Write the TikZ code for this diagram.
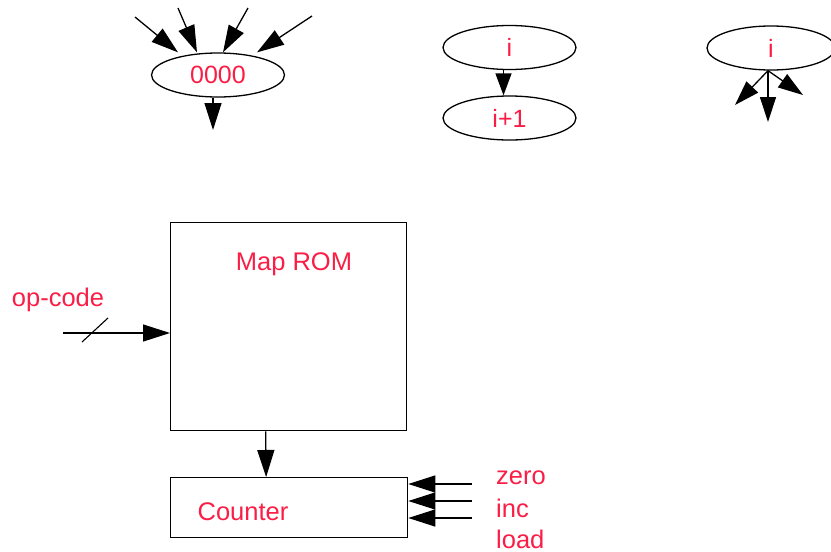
\documentclass[tikz,border=0pt]{standalone}
\usepackage{fontspec}
\setmainfont{Liberation Sans}
\usetikzlibrary{arrows.meta,shapes.geometric}
\definecolor{txtred}{RGB}{250,30,70}
\tikzset{
  arr/.style={line width=1.3pt,-{Triangle[length=27pt,width=17pt]}},
  oval/.style={ellipse,draw,line width=1.3pt,minimum width=133pt,minimum height=44pt,inner sep=0pt,text=txtred,font=\fontsize{25}{27}\selectfont},
  blk/.style={draw,line width=1.3pt,inner sep=0pt,anchor=north west},
  lbl/.style={text=txtred,font=\fontsize{25.5}{28}\selectfont,inner sep=0pt}
}
\begin{document}
\begin{tikzpicture}[x=1pt,y=-1pt]
\useasboundingbox (0,0) rectangle (831,552);
% top left
\node[oval] (z) at (218,75) {0000};
\coordinate (s1) at (135,17);
\coordinate (s2) at (178,8);
\coordinate (s3) at (248,8);
\coordinate (s4) at (312,16);
\coordinate (zo) at (213,130);
\draw[arr] (s1) -- ([xshift=-40pt]z.north);
\draw[arr] (s2) -- ([xshift=-21pt]z.north);
\draw[arr] (s3) -- ([xshift=5pt]z.north);
\draw[arr] (s4) -- ([xshift=39pt]z.north);
\draw[arr] ([xshift=-5pt]z.south) -- (zo);
% middle
\node[oval] (a) at (509.5,47.5) {i};
\node[oval] (b) at (509.5,118) {i+1};
\draw[arr,-{Triangle[length=22pt,width=16pt]}] ([xshift=-6pt]a.south) -- ([xshift=-6pt]b.north);
% right
\node[oval,minimum width=128pt] (c) at (771,48) {i};
\coordinate (c1) at (735,105);
\coordinate (c2) at (768,122);
\coordinate (c3) at (803,95);
\draw[arr,-{Triangle[length=25pt,width=16pt]}] ([xshift=-3pt]c.south) -- (c1);
\draw[arr,-{Triangle[length=25pt,width=16pt]}] ([xshift=-3pt]c.south) -- (c2);
\draw[arr,-{Triangle[length=25pt,width=16pt]}] ([xshift=-3pt]c.south) -- (c3);
% blocks
\node[blk,minimum width=236pt,minimum height=208pt] (rom) at (170,222) {};
\node[lbl] (romt) at (294,264) {Map ROM};
\node[blk,minimum width=237pt,minimum height=60pt] (ctr) at (170,477) {};
\node[lbl] (ctrt) at (243,512) {Counter};
\draw[arr] ([xshift=-23pt]rom.south) -- ([xshift=-23pt]ctr.north);
% op-code
\node[lbl] (op) at (58,300) {op-code};
\coordinate (opin) at (63,333);
\draw[arr] (opin) -- (opin -| rom.west);
\coordinate (sl1) at (82,342);
\coordinate (sl2) at (108,318);
\draw[line width=1.1pt] (sl1) -- (sl2);
% counter inputs
\coordinate (i1) at (472,484);
\coordinate (i2) at (472,501);
\coordinate (i3) at (472,518);
\draw[arr] (i1) -- (i1 -| ctr.east);
\draw[arr] (i2) -- (i2 -| ctr.east);
\draw[arr] (i3) -- (i3 -| ctr.east);
\node[lbl,anchor=base west] (lz) at (496,484) {zero};
\node[lbl,anchor=base west] (li) at (496,517) {inc};
\node[lbl,anchor=base west] (ll) at (496,548) {load};
\end{tikzpicture}
\end{document}
